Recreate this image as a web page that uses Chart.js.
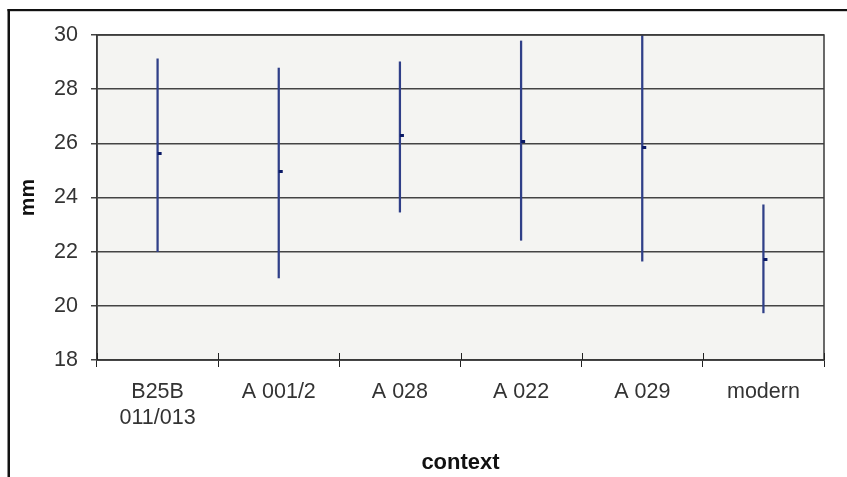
<!DOCTYPE html>
<html>
<head>
<meta charset="utf-8">
<script src="https://cdn.jsdelivr.net/npm/chart.js@4/dist/chart.umd.min.js"></script>
<style>
  html, body { margin: 0; padding: 0; background: #ffffff; }
  #wrap { position: relative; width: 847px; height: 477px; }
</style>
</head>
<body>
<div id="wrap"><canvas id="c" width="847" height="477"></canvas></div>
<script>
// ---- data ----
const categories = [["B25B", "011/013"], "A 001/2", "A 028", "A 022", "A 029", "modern"];
const highValues  = [29.12, 28.78, 29.01, 29.78, 30.0, 23.73];
const lowValues   = [22.00, 21.03, 23.46, 22.42, 21.65, 19.74];
const closeValues = [25.62, 24.96, 26.29, 26.07, 25.84, 21.70];
const yTicks = { min: 18, max: 30, step: 2 };
const xTitle = "context";
const yTitle = "mm";

const rangeData = lowValues.map((lo, i) => [lo, highValues[i]]);

// small close-tick marker (drawn to the right of the range line)
const marker = document.createElement('canvas');
marker.width = 10; marker.height = 3;
(function () {
  const m = marker.getContext('2d');
  m.fillStyle = '#0b1a66';
  m.fillRect(5, 0, 4, 3);
})();

const FONT = "'Liberation Sans', Arial, sans-serif";

const decor = {
  id: 'decor',
  beforeDraw(chart) {
    const { ctx, chartArea: a } = chart;
    ctx.save();
    ctx.fillStyle = '#f4f4f2';
    ctx.fillRect(a.left, a.top, a.right - a.left, a.bottom - a.top);
    ctx.restore();
  },
  afterDraw(chart) {
    const { ctx, chartArea: a } = chart;
    const xs = chart.scales.x;
    ctx.save();
    // plot border
    ctx.strokeStyle = '#3a3a3a';
    ctx.lineWidth = 1.5;
    ctx.strokeRect(a.left, a.top, a.right - a.left, a.bottom - a.top);
    // x tick marks crossing upward into the plot
    ctx.strokeStyle = '#222';
    ctx.lineWidth = 1;
    for (let i = 0; i <= categories.length; i++) {
      const px = Math.round(xs.getPixelForValue(i - 0.5)) + 0.5;
      ctx.beginPath();
      ctx.moveTo(px, a.bottom);
      ctx.lineTo(px, a.bottom - 7);
      ctx.stroke();
    }
    // outer frame
    ctx.fillStyle = '#111';
    ctx.fillRect(7.5, 9, 2.5, 477);
    ctx.fillRect(7.5, 9, 847, 2.2);
    ctx.restore();
  }
};

new Chart(document.getElementById('c'), {
  type: 'bar',
  data: {
    labels: categories,
    datasets: [
      {
        type: 'line',
        data: closeValues,
        showLine: false,
        pointStyle: marker,
        pointRadius: 5,
        pointHoverRadius: 5,
        order: 0
      },
      {
        type: 'bar',
        data: rangeData,
        backgroundColor: '#2f3f88',
        borderWidth: 0,
        barThickness: 1.6,
        grouped: false,
        order: 1
      }
    ]
  },
  options: {
    responsive: false,
    animation: false,
    events: [],
    layout: { padding: { top: 35, right: 23, left: 0, bottom: 0 } },
    plugins: { legend: { display: false }, tooltip: { enabled: false } },
    scales: {
      x: {
        offset: true,
        grid: { offset: true, drawOnChartArea: false, drawTicks: true, tickLength: 7, color: '#222', lineWidth: 1 },
        border: { display: true, color: '#3a3a3a', width: 1.5 },
        ticks: { color: '#333', padding: 12, maxRotation: 0, autoSkip: false,
                 font: { family: FONT, size: 21.5, lineHeight: 1.2 } },
        title: { display: true, text: xTitle, color: '#111', padding: { top: 0, bottom: 1 },
                 font: { family: FONT, size: 22, weight: 'bold', lineHeight: 1.2 } },
        afterFit(scale) { scale.height = 117; }
      },
      y: {
        min: yTicks.min,
        max: yTicks.max,
        grid: { color: '#444', lineWidth: 1.5, tickLength: 6, drawTicks: true },
        border: { display: true, color: '#3a3a3a', width: 1.5 },
        ticks: { stepSize: yTicks.step, color: '#333', padding: 13,
                 font: { family: FONT, size: 21.5 } },
        title: { display: true, text: yTitle, color: '#111', padding: { top: 16, bottom: 0 },
                 font: { family: FONT, size: 21, weight: 'bold', lineHeight: 1.2 } },
        afterFit(scale) { scale.width = 97; }
      }
    }
  },
  plugins: [decor]
});
</script>
</body>
</html>
